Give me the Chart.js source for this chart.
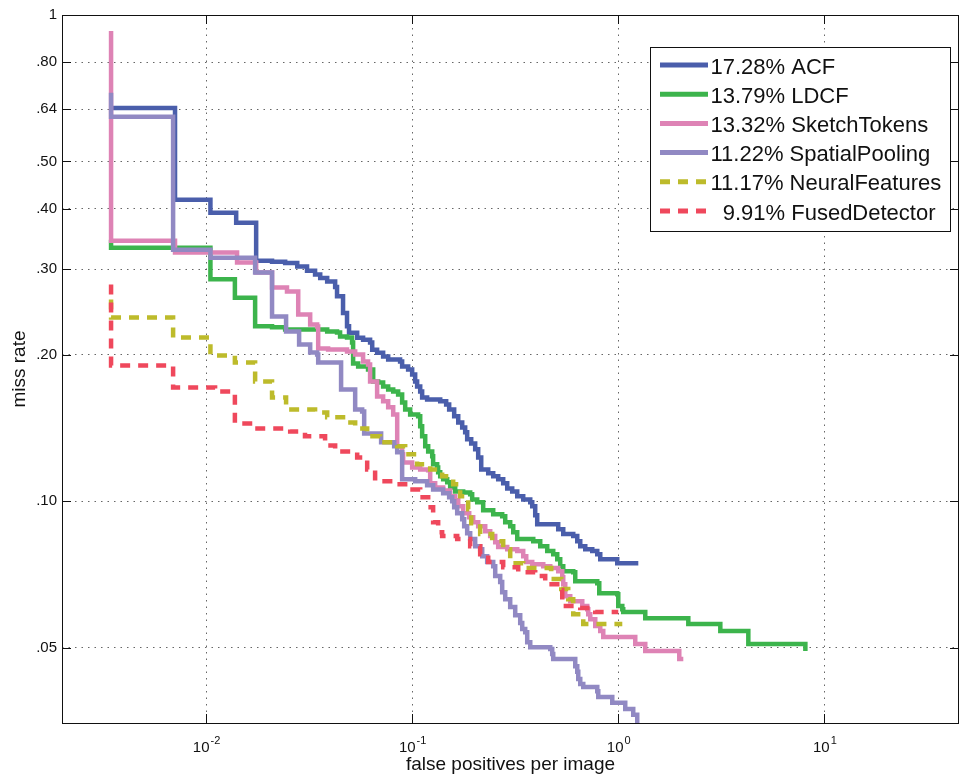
<!DOCTYPE html>
<html>
<head>
<meta charset="utf-8">
<script src="https://cdn.jsdelivr.net/npm/chart.js@4.4.1/dist/chart.umd.min.js"></script>
<style>
html,body{margin:0;padding:0;background:#fff;}
#wrap{width:960px;height:776px;position:relative;}
</style>
</head>
<body>
<div id="wrap"><canvas id="c" width="960" height="776"></canvas></div>
<script>
// ---------- data ----------
const methods = ['ACF', 'LDCF', 'SketchTokens', 'SpatialPooling', 'NeuralFeatures', 'FusedDetector'];
const logAvgMiss = [17.28, 13.79, 13.32, 11.22, 11.17, 9.91];

const acfFppi = [0.00346, 0.00707, 0.0105, 0.0140, 0.0175, 0.0209, 0.0242, 0.0277, 0.0309, 0.0338, 0.0358, 0.0387, 0.0423, 0.0432, 0.0462, 0.0483, 0.0494, 0.0541, 0.0578, 0.0625, 0.0640, 0.0676, 0.0723, 0.0765, 0.0874, 0.0894, 0.0956, 0.100, 0.1034, 0.1057, 0.1094, 0.1118, 0.1182, 0.1368, 0.1462, 0.1512, 0.1599, 0.1673, 0.1749, 0.1808, 0.1849, 0.1934, 0.2022, 0.2091, 0.2163, 0.2339, 0.2473, 0.2615, 0.2765, 0.2892, 0.3058, 0.3234, 0.3458, 0.3740, 0.3824, 0.3954, 0.4043, 0.5113, 0.5408, 0.6047, 0.6324, 0.6539, 0.6916, 0.7478, 0.7908, 0.8177, 0.9888, 1.251];
const acfMiss = [0.644, 0.417, 0.392, 0.374, 0.3125, 0.311, 0.309, 0.304, 0.298, 0.2925, 0.288, 0.283, 0.276, 0.264, 0.244, 0.229, 0.222, 0.217, 0.215, 0.212, 0.205, 0.202, 0.1985, 0.1957, 0.1938, 0.1893, 0.1866, 0.1823, 0.1764, 0.1722, 0.1682, 0.1635, 0.1619, 0.1605, 0.1582, 0.1545, 0.1495, 0.1453, 0.1419, 0.1386, 0.1341, 0.1315, 0.1279, 0.1231, 0.1163, 0.1142, 0.1126, 0.1110, 0.1089, 0.1063, 0.1048, 0.1024, 0.1009, 0.0995, 0.0977, 0.0936, 0.0897, 0.0876, 0.0856, 0.0848, 0.0828, 0.0808, 0.0797, 0.0790, 0.0778, 0.0760, 0.0746, 0.0746];

const ldcfFppi = [0.00346, 0.00346, 0.0105, 0.0138, 0.0173, 0.0209, 0.0242, 0.0387, 0.0432, 0.0447, 0.0483, 0.0511, 0.0517, 0.0547, 0.0611, 0.0647, 0.0684, 0.0723, 0.0765, 0.0809, 0.0855, 0.0894, 0.0925, 0.0978, 0.1069, 0.1094, 0.1118, 0.1157, 0.1196, 0.1251, 0.1264, 0.1322, 0.1337, 0.1368, 0.1414, 0.1479, 0.1529, 0.1617, 0.1768, 0.1912, 0.1955, 0.2068, 0.2211, 0.2473, 0.2734, 0.2828, 0.2990, 0.3093, 0.3234, 0.3868, 0.4182, 0.4522, 0.4835, 0.5057, 0.5228, 0.5408, 0.6047, 0.6184, 0.7908, 0.8087, 0.9888, 1.000, 1.046, 1.057, 1.352, 2.187, 3.127, 4.276, 8.087, 8.087];
const ldcfMiss = [0.345, 0.332, 0.286, 0.262, 0.229, 0.228, 0.2255, 0.2234, 0.2223, 0.2182, 0.2171, 0.212, 0.192, 0.1893, 0.1866, 0.1764, 0.1755, 0.1722, 0.1698, 0.1682, 0.1658, 0.1597, 0.1545, 0.1509, 0.1495, 0.1426, 0.1360, 0.1297, 0.1266, 0.1237, 0.1191, 0.1174, 0.1147, 0.1126, 0.1110, 0.1094, 0.1068, 0.1048, 0.1043, 0.1034, 0.1009, 0.0995, 0.0958, 0.0940, 0.0932, 0.0905, 0.0889, 0.0864, 0.0836, 0.0828, 0.0808, 0.0790, 0.0778, 0.0760, 0.0735, 0.0718, 0.0715, 0.0685, 0.0678, 0.0647, 0.0644, 0.0609, 0.0600, 0.0592, 0.0575, 0.0559, 0.0541, 0.0509, 0.0509, 0.0492];

const sketchFppi = [0.00346, 0.00346, 0.00707, 0.01414, 0.0175, 0.0209, 0.0247, 0.0280, 0.0320, 0.0346, 0.0350, 0.0391, 0.0483, 0.0529, 0.0578, 0.0611, 0.0625, 0.0676, 0.0723, 0.0765, 0.0809, 0.0846, 0.0894, 0.0904, 0.100, 0.1094, 0.1196, 0.1223, 0.1293, 0.1414, 0.1529, 0.1617, 0.1673, 0.1768, 0.1891, 0.1977, 0.2091, 0.2262, 0.2391, 0.2529, 0.2615, 0.2892, 0.3234, 0.3458, 0.3576, 0.3824, 0.4325, 0.4677, 0.5113, 0.5348, 0.5408, 0.5530, 0.5848, 0.6688, 0.7070, 0.7150, 0.7312, 0.7733, 0.8177, 0.8456, 1.209, 1.352, 1.977, 2.068];
const sketchMiss = [0.927, 0.3435, 0.3246, 0.3096, 0.2953, 0.2751, 0.2699, 0.2421, 0.2309, 0.2287, 0.2062, 0.2052, 0.2032, 0.2004, 0.1938, 0.1911, 0.1764, 0.1643, 0.1605, 0.1560, 0.1509, 0.1297, 0.1249, 0.1202, 0.1174, 0.1163, 0.1158, 0.1089, 0.1068, 0.1053, 0.1024, 0.1005, 0.0977, 0.0945, 0.0927, 0.0905, 0.0889, 0.0868, 0.0848, 0.0824, 0.0805, 0.0797, 0.0790, 0.0771, 0.0750, 0.0742, 0.0735, 0.0729, 0.0718, 0.0698, 0.0675, 0.0638, 0.0623, 0.0609, 0.0600, 0.0586, 0.0572, 0.0554, 0.0541, 0.0526, 0.0509, 0.0492, 0.0474, 0.0474];

const spatialFppi = [0.00346, 0.00346, 0.00692, 0.0105, 0.0173, 0.0209, 0.02445, 0.02828, 0.0320, 0.0346, 0.0350, 0.0452, 0.0529, 0.0572, 0.0585, 0.0707, 0.0818, 0.0846, 0.0894, 0.1034, 0.1182, 0.1264, 0.1414, 0.1512, 0.1564, 0.1599, 0.1654, 0.1749, 0.1788, 0.1849, 0.1912, 0.2022, 0.2138, 0.2187, 0.2312, 0.2473, 0.2529, 0.2674, 0.2734, 0.2828, 0.2990, 0.3162, 0.3344, 0.3420, 0.3536, 0.3616, 0.3740, 0.4677, 0.4781, 0.4835, 0.6184, 0.6324, 0.6396, 0.6539, 0.6763, 0.7908, 0.7998, 0.9352, 1.081, 1.182, 1.236];
const spatialMiss = [0.692, 0.6175, 0.3292, 0.3170, 0.2953, 0.2398, 0.2234, 0.2101, 0.2023, 0.2004, 0.1929, 0.1698, 0.1545, 0.1530, 0.1379, 0.1322, 0.1297, 0.1261, 0.1110, 0.1099, 0.1079, 0.1058, 0.1039, 0.1019, 0.1000, 0.0972, 0.0945, 0.0918, 0.0889, 0.0860, 0.0836, 0.0808, 0.0797, 0.0771, 0.0750, 0.0735, 0.0702, 0.0682, 0.0650, 0.0629, 0.0606, 0.0583, 0.0562, 0.0546, 0.0538, 0.0513, 0.0501, 0.0497, 0.0485, 0.0474, 0.0458, 0.0446, 0.0431, 0.0421, 0.0415, 0.0407, 0.0396, 0.0385, 0.0374, 0.0364, 0.0345];

const neuralFppi = [0.00346, 0.00346, 0.00692, 0.0105, 0.0138, 0.0173, 0.0209, 0.02445, 0.0338, 0.0387, 0.0462, 0.0529, 0.0605, 0.0699, 0.0846, 0.0925, 0.1057, 0.1223, 0.1398, 0.1581, 0.1710, 0.1870, 0.1934, 0.2138, 0.2445, 0.2765, 0.2990, 0.3458, 0.4729, 0.5289, 0.5718, 0.6047, 0.6763, 1.046];
const neuralMiss = [0.260, 0.2387, 0.2171, 0.1994, 0.1929, 0.1764, 0.1635, 0.1545, 0.1523, 0.1488, 0.1453, 0.1412, 0.1360, 0.1322, 0.1297, 0.1249, 0.1191, 0.1163, 0.1126, 0.1084, 0.1024, 0.0963, 0.0901, 0.0856, 0.0828, 0.0797, 0.0746, 0.0729, 0.0692, 0.0660, 0.0629, 0.0586, 0.0559, 0.0559];

const fusedFppi = [0.00346, 0.00346, 0.00692, 0.01106, 0.0138, 0.0173, 0.0256, 0.0302, 0.0378, 0.0423, 0.0541, 0.0605, 0.0661, 0.0782, 0.0956, 0.1094, 0.1196, 0.1264, 0.1337, 0.1398, 0.1654, 0.1912, 0.2138, 0.2339, 0.2765, 0.3270, 0.3954, 0.4421, 0.5057, 0.5348, 0.6539, 0.7733, 1.000];
const fusedMiss = [0.279, 0.1902, 0.1714, 0.1682, 0.1446, 0.1412, 0.1392, 0.1360, 0.1303, 0.1266, 0.1231, 0.1163, 0.1099, 0.1084, 0.1058, 0.1019, 0.0972, 0.0905, 0.0864, 0.0848, 0.0836, 0.0808, 0.0778, 0.0750, 0.0732, 0.0715, 0.0702, 0.0675, 0.0657, 0.0609, 0.0603, 0.0592, 0.0592];

const xTickValues = [0.01, 0.1, 1, 10];
const xTickExponents = ['-2', '-1', '0', '1'];
const yTickValues = [0.05, 0.1, 0.2, 0.3, 0.4, 0.5, 0.64, 0.8, 1];
const yTickLabels = ['.05', '.10', '.20', '.30', '.40', '.50', '.64', '.80', '1'];

// ---------- styling ----------
const colors = ['#4a5eab', '#3cb44c', '#de83b5', '#9189c3', '#bdbb2b', '#ef485c'];
const dashed = [false, false, false, false, true, true];
const DASH = [10, 8];
const FONT = '"Liberation Sans", Arial, Helvetica, sans-serif';

const seriesX = [acfFppi, ldcfFppi, sketchFppi, spatialFppi, neuralFppi, fusedFppi];
const seriesY = [acfMiss, ldcfMiss, sketchMiss, spatialMiss, neuralMiss, fusedMiss];
const toPoints = (xs, ys) => xs.map((v, i) => ({x: v, y: ys[i]}));
const legendText = methods.map((m, i) => (logAvgMiss[i] < 10 ? '  ' : '') + logAvgMiss[i].toFixed(2) + '% ' + m);

const datasets = methods.map((m, i) => ({
  label: legendText[i],
  data: toPoints(seriesX[i], seriesY[i]),
  borderColor: colors[i],
  backgroundColor: colors[i],
  borderWidth: 4.5,
  borderDash: dashed[i] ? DASH : [],
  borderCapStyle: 'butt',
  borderJoinStyle: 'miter',
  stepped: 'before',
  pointRadius: 0,
  fill: false,
  tension: 0,
  order: methods.length - i
}));

const framePlugin = {
  id: 'framePlugin',
  afterDatasetsDraw(chart) {
    const {ctx, chartArea: a, scales} = chart;
    const xs = scales.x, ys = scales.y;
    ctx.save();
    ctx.setLineDash([]);
    ctx.strokeStyle = '#111';
    ctx.lineWidth = 1;
    // inward tick marks
    ctx.beginPath();
    xTickValues.forEach(v => {
      const px = Math.round(xs.getPixelForValue(v)) + 0.5;
      ctx.moveTo(px, a.bottom); ctx.lineTo(px, a.bottom - 9);
      ctx.moveTo(px, a.top); ctx.lineTo(px, a.top + 9);
    });
    yTickValues.forEach(v => {
      const py = Math.round(ys.getPixelForValue(v)) + 0.5;
      ctx.moveTo(a.left, py); ctx.lineTo(a.left + 9, py);
      ctx.moveTo(a.right, py); ctx.lineTo(a.right - 9, py);
    });
    ctx.stroke();
    // axes box
    ctx.strokeRect(Math.round(a.left) + 0.5, Math.round(a.top) + 0.5,
                   Math.round(a.right - a.left) - 1, Math.round(a.bottom - a.top));

    // legend
    const L = 650, T = 47, R = 950, B = 231;
    ctx.fillStyle = '#fff';
    ctx.fillRect(L, T, R - L, B - T);
    ctx.strokeStyle = '#111';
    ctx.lineWidth = 1;
    ctx.strokeRect(L + 0.5, T + 0.5, R - L, B - T);
    ctx.font = '22px ' + FONT;
    ctx.textAlign = 'left';
    ctx.textBaseline = 'alphabetic';
    datasets.forEach((d, i) => {
      const base = 73.5 + i * 29.2;
      const ly = base - 8.5;
      ctx.strokeStyle = d.borderColor;
      ctx.lineWidth = 5;
      ctx.lineCap = 'butt';
      ctx.setLineDash(d.borderDash);
      ctx.beginPath();
      ctx.moveTo(660, ly); ctx.lineTo(708, ly);
      ctx.stroke();
      ctx.setLineDash([]);
      ctx.fillStyle = '#111';
      ctx.fillText(d.label, 710.5, base);
    });
    ctx.restore();
  },
  afterDraw(chart) {
    const {ctx, chartArea: a, scales} = chart;
    const xs = scales.x, ys = scales.y;
    ctx.save();
    ctx.fillStyle = '#111';
    // y tick labels
    ctx.font = '15px ' + FONT;
    ctx.textAlign = 'right';
    ctx.textBaseline = 'middle';
    yTickValues.forEach((v, i) => {
      ctx.fillText(yTickLabels[i], a.left - 5, ys.getPixelForValue(v));
    });
    // x tick labels 10^k
    ctx.textAlign = 'left';
    ctx.textBaseline = 'alphabetic';
    xTickValues.forEach((v, i) => {
      const px = xs.getPixelForValue(v);
      ctx.font = '15px ' + FONT;
      const wBase = ctx.measureText('10').width;
      ctx.font = '11px ' + FONT;
      const wExp = ctx.measureText(xTickExponents[i]).width;
      const start = px - (wBase + wExp) / 2;
      ctx.font = '15px ' + FONT;
      ctx.fillText('10', start, 752);
      ctx.font = '11px ' + FONT;
      ctx.fillText(xTickExponents[i], start + wBase + 1, 744);
    });
    // axis titles
    ctx.font = '19px ' + FONT;
    ctx.textAlign = 'center';
    ctx.textBaseline = 'middle';
    ctx.fillText('false positives per image', (a.left + a.right) / 2, 765);
    ctx.translate(20, (a.top + a.bottom) / 2);
    ctx.rotate(-Math.PI / 2);
    ctx.fillText('miss rate', 0, 0);
    ctx.restore();
  }
};

new Chart(document.getElementById('c'), {
  type: 'line',
  data: {datasets},
  options: {
    responsive: false,
    animation: false,
    devicePixelRatio: 1,
    layout: {padding: {top: 15, right: 1, left: 0, bottom: 0}},
    plugins: {legend: {display: false}, tooltip: {enabled: false}},
    scales: {
      x: {
        type: 'logarithmic', min: 0.002, max: 45, position: 'bottom',
        afterBuildTicks: s => { s.ticks = xTickValues.map(v => ({value: v})); },
        afterFit: s => { s.height = 53; },
        ticks: {display: false},
        grid: {color: '#666', lineWidth: 1, drawTicks: false},
        border: {display: false, dash: [1.5, 5]}
      },
      y: {
        type: 'logarithmic', min: 0.035, max: 1, position: 'left',
        afterBuildTicks: s => { s.ticks = yTickValues.map(v => ({value: v})); },
        afterFit: s => { s.width = 62; },
        ticks: {display: false},
        grid: {color: '#666', lineWidth: 1, drawTicks: false},
        border: {display: false, dash: [1.5, 5]}
      }
    }
  },
  plugins: [framePlugin]
});
</script>
</body>
</html>
